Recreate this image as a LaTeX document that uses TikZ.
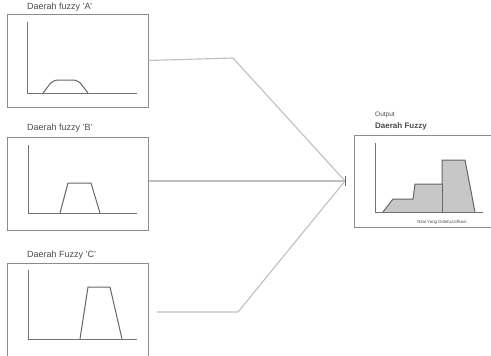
\documentclass[tikz,border=0pt]{standalone}
\usepackage{fontspec}
\setmainfont{Liberation Sans}
\begin{document}
\begin{tikzpicture}[x=1pt,y=-1pt,
  frame/.style={draw=black!45,line width=1pt},
  axis/.style={draw=black!55,line width=1pt},
  curve/.style={draw=black!60,line width=1pt},
  link/.style={draw=black!25,line width=1.1pt},
  ttl/.style={font=\fontsize{9}{10}\selectfont,text=black!70,inner sep=0pt,anchor=south west}]
\clip (0,0) rectangle (491,356);
\fill[white] (0,0) rectangle (491,356);
% boxes
\node[frame,minimum width=141pt,minimum height=93pt,inner sep=0pt] (boxA) at (77.5,60.5) {};
\node[frame,minimum width=141pt,minimum height=93pt,inner sep=0pt] (boxB) at (77.5,183.5) {};
\node[frame,minimum width=141pt,minimum height=102pt,inner sep=0pt] (boxC) at (77.5,314) {};
\node[frame,minimum width=141pt,minimum height=92pt,inner sep=0pt] (boxO) at (424.5,181) {};
% titles
\node[ttl] (tA) at (27,12) {Daerah fuzzy 'A'};
\node[ttl] (tB) at (27,133) {Daerah fuzzy 'B'};
\node[ttl] (tC) at (27,260) {Daerah Fuzzy 'C'};
\node[ttl,font=\fontsize{6.5}{7}\selectfont] (tO1) at (375,118) {Output};
\node[ttl,font=\fontsize{8}{9}\selectfont\bfseries] (tO2) at (375,130) {Daerah Fuzzy};
% chart A
\draw[axis] (27,22) -- (27,93) -- (137,93);
\draw[curve,rounded corners=5pt] (43,93) -- (53,80) -- (78,80) -- (88,93);
% chart B
\draw[axis] (28,145) -- (28,213) -- (137,213);
\draw[curve] (60,213) -- (68,183) -- (91,183) -- (100,213);
% chart C
\draw[axis] (28,270) -- (28,339) -- (137,339);
\draw[curve] (80,339) -- (88,287) -- (110,287) -- (122,339);
% output chart
\fill[black!22] (383,212) -- (393,199) -- (413,199) -- (415,184) -- (442,184) -- (442,160) -- (465,160) -- (475,212) -- cycle;
\draw[curve] (383,212) -- (393,199) -- (413,199) -- (415,184) -- (442,184) -- (442,160) -- (465,160) -- (475,212);
\draw[curve] (442,184) -- (442,212);
\draw[axis] (375,143) -- (375,212) -- (483,212);
\node[ttl,font=\fontsize{4.4}{5}\selectfont,anchor=center] (tX) at (442,222) {Nilai Yang Didefuzzifikasi};
% connectors
\coordinate (j) at (345,181);
\coordinate (kA) at (233,58);
\coordinate (kC) at (238,312);
\coordinate (sC) at (157,312);
\draw[link] (boxA.east) -- (kA) -- (j);
\draw[link] (boxB.east |- j) -- (j);
\draw[link] (sC) -- (kC) -- (j);
\draw[black!60,line width=1pt] ([yshift=-5pt]j) -- ([yshift=5pt]j);
\end{tikzpicture}
\end{document}
